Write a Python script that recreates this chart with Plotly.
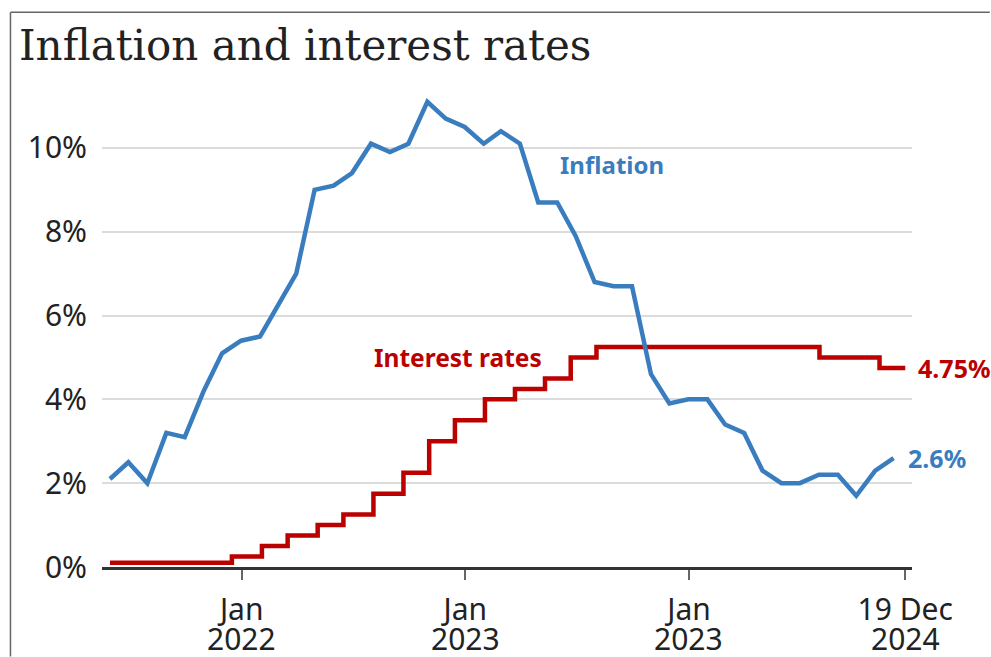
import pandas as pd
import plotly.graph_objects as go

# ---- data ----
inflation_months = pd.date_range(start="2021-05-31", periods=43, freq="ME")
inflation_values = [2.1, 2.5, 2.0, 3.2, 3.1, 4.2, 5.1, 5.4, 5.5, 6.2, 7.0, 9.0, 9.1, 9.4,
                    10.1, 9.9, 10.1, 11.1, 10.7, 10.5, 10.1, 10.4, 10.1, 8.7, 8.7, 7.9,
                    6.8, 6.7, 6.7, 4.6, 3.9, 4.0, 4.0, 3.4, 3.2, 2.3, 2.0, 2.0, 2.2, 2.2,
                    1.7, 2.3, 2.6]

rate_dates = ["2021-05-31", "2021-12-16", "2022-02-03", "2022-03-17", "2022-05-05",
              "2022-06-16", "2022-08-04", "2022-09-22", "2022-11-03", "2022-12-15",
              "2023-02-02", "2023-03-23", "2023-05-11", "2023-06-22", "2023-08-03",
              "2024-08-01", "2024-11-07", "2024-12-19"]
rate_values = [0.1, 0.25, 0.5, 0.75, 1.0, 1.25, 1.75, 2.25, 3.0, 3.5, 4.0, 4.25, 4.5,
               5.0, 5.25, 5.0, 4.75, 4.75]

tick_dates = ["2022-01-01", "2023-01-01", "2024-01-01", "2024-12-19"]
tick_top = ["Jan", "Jan", "Jan", "19 Dec"]
tick_bottom = ["2022", "2023", "2023", "2024"]
y_ticks = [0, 2, 4, 6, 8, 10]
y_tick_text = ["0%", "2%", "4%", "6%", "8%", "10%"]

BLUE = "#3a7dbf"
RED = "#bb0000"
SANS = "Noto Sans"
XRANGE = ["2021-05-18", "2024-12-30"]

fig = go.Figure()
fig.add_trace(go.Scatter(x=rate_dates, y=rate_values, mode="lines",
                         line=dict(color=RED, width=4.5, shape="hv"), hoverinfo="skip"))
fig.add_trace(go.Scatter(x=inflation_months, y=inflation_values, mode="lines",
                         line=dict(color=BLUE, width=4.5), hoverinfo="skip"))

fig.add_annotation(x="2023-06-01", y=9.6, text="<b>Inflation</b>", showarrow=False,
                   xanchor="left", yanchor="middle", font=dict(family=SANS, size=24, color=BLUE))
fig.add_annotation(x="2022-08-02", y=5.0, text="<b>Interest rates</b>", showarrow=False,
                   xanchor="left", yanchor="middle", font=dict(family=SANS, size=24.5, color=RED))
fig.add_annotation(x=rate_dates[-1], y=rate_values[-1], text="<b>4.75%</b>", showarrow=False,
                   xanchor="left", yanchor="middle", xshift=11,
                   font=dict(family=SANS, size=25, color=RED))
fig.add_annotation(x=inflation_months[-1], y=inflation_values[-1], text="<b>2.6%</b>",
                   showarrow=False, xanchor="left", yanchor="middle", xshift=12,
                   font=dict(family=SANS, size=25, color=BLUE))

# second row of the x tick labels (years)
for d, yr in zip(tick_dates, tick_bottom):
    fig.add_annotation(x=d, y=0, xref="x", yref="paper", text=yr, showarrow=False,
                       xanchor="center", yanchor="middle", yshift=-71,
                       font=dict(family=SANS, size=30, color="#222"))

# frame lines (top and left) like the reference crop
fig.add_shape(type="line", xref="paper", yref="paper", x0=-0.113, x1=1.096, y0=1.139, y1=1.139,
              line=dict(color="#666", width=1.5))
fig.add_shape(type="line", xref="paper", yref="paper", x0=-0.113, x1=-0.113, y0=1.139, y1=-0.184,
              line=dict(color="#666", width=1.5))

fig.update_layout(
    width=991, height=657,
    margin=dict(l=102, r=79, t=80, b=90),
    paper_bgcolor="white", plot_bgcolor="white",
    showlegend=False,
    title=dict(text="Inflation and interest rates", x=19 / 991, xanchor="left",
               y=1 - 45 / 657, yanchor="middle", yref="container",
               font=dict(family="DejaVu Serif", size=42, color="#222")),
    xaxis=dict(type="date", range=XRANGE, tickvals=tick_dates, ticktext=tick_top,
               ticks="outside", ticklen=10, tickwidth=1.5, tickcolor="#666",
               showgrid=False, showline=True, linecolor="#333", linewidth=2.5,
               tickfont=dict(family=SANS, size=30, color="#222"), ticklabelstandoff=4),
    yaxis=dict(range=[0, 11.62], tickvals=y_ticks, ticktext=y_tick_text, showgrid=True,
               gridcolor="#dcdcdc", gridwidth=1.5, zeroline=False, showline=False,
               ticks="", tickfont=dict(family=SANS, size=30, color="#222"),
               ticklabelstandoff=14),
)

fig.write_html("out.html", config={"displayModeBar": False},
               post_script="document.body.style.margin='0';")
